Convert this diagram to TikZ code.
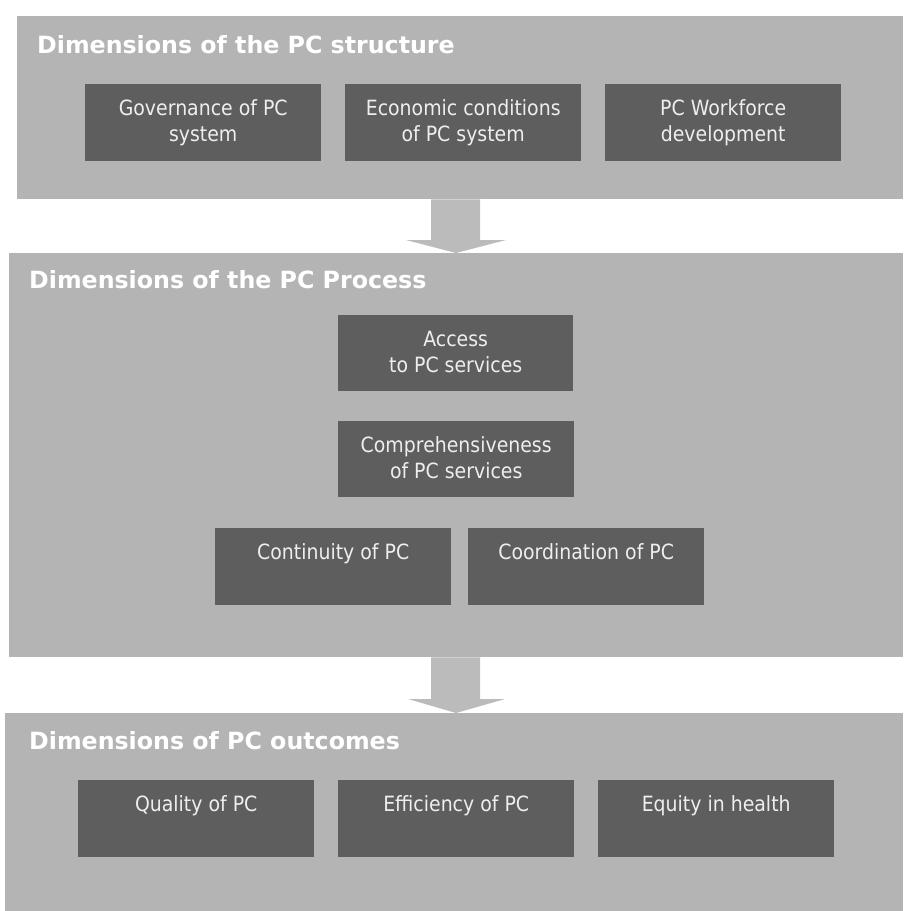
\documentclass[tikz,border=0pt]{standalone}
\usepackage{fontspec}
\setmainfont{DejaVu Sans}
\newfontfamily\bodyfont{DejaVu Sans}[FakeStretch=0.9]
\newfontfamily\titlefont{DejaVu Sans}
\usetikzlibrary{calc}
\definecolor{panelgray}{HTML}{B4B4B4}
\definecolor{boxgray}{HTML}{5E5E5E}
\definecolor{txtgray}{HTML}{EEEEEE}
\definecolor{flowgray}{HTML}{BBBBBB}
\tikzset{
  panel/.style={rectangle, fill=panelgray, inner sep=0pt, anchor=north west},
  dimbox/.style={rectangle, fill=boxgray, inner sep=0pt, anchor=north west,
    minimum width=236pt, minimum height=77pt},
  boxtext/.style={inner sep=0pt, anchor=north, align=center, text=txtgray,
    font={\bodyfont\fontsize{21}{26}\selectfont}},
  paneltitle/.style={inner sep=0pt, anchor=base west, text=white,
    font={\titlefont\bfseries\fontsize{23.7}{28}\selectfont}},
  flow/.style={fill=flowgray}
}
\begin{document}
\begin{tikzpicture}[x=1pt,y=-1pt]
\useasboundingbox (0,0) rectangle (903,911);
\fill[white] (0,0) rectangle (903,911);
% panels
\node[panel, minimum width=886pt, minimum height=183pt] (p1) at (17,16) {};
\node[panel, minimum width=894pt, minimum height=404pt] (p2) at (9,253) {};
\node[panel, minimum width=898pt, minimum height=198pt] (p3) at (5,713) {};
% titles
\node[paneltitle] (t1) at (37,53) {Dimensions of the PC structure};
\node[paneltitle] (t2) at (29,288) {Dimensions of the PC Process};
\node[paneltitle] (t3) at (29,749) {Dimensions of PC outcomes};
% structure boxes
\node[dimbox] (gov) at (85,84) {};
\node[boxtext] (govt) at ($(gov.north)+(0,15.5)$) {Governance of PC\\system};
\node[dimbox] (eco) at (345,84) {};
\node[boxtext] (ecot) at ($(eco.north)+(0,15.5)$) {Economic conditions\\of PC system};
\node[dimbox] (wf) at (605,84) {};
\node[boxtext] (wft) at ($(wf.north)+(0,15.5)$) {PC Workforce\\development};
% process boxes
\node[dimbox, minimum width=235pt, minimum height=76pt] (acc) at (338,315) {};
\node[boxtext] (acct) at ($(acc.north)+(0,15.5)$) {Access\\to PC services};
\node[dimbox, minimum width=236pt, minimum height=76pt] (comp) at (338,421) {};
\node[boxtext] (compt) at ($(comp.north)+(0,15.5)$) {Comprehensiveness\\of PC services};
\node[dimbox] (cont) at (215,528) {};
\node[boxtext] (contt) at ($(cont.north)+(0,15.5)$) {Continuity of PC};
\node[dimbox] (coord) at (468,528) {};
\node[boxtext] (coordt) at ($(coord.north)+(0,15.5)$) {Coordination of PC};
% outcome boxes
\node[dimbox] (qual) at (78,780) {};
\node[boxtext] (qualt) at ($(qual.north)+(0,15.5)$) {Quality of PC};
\node[dimbox] (eff) at (338,780) {};
\node[boxtext] (efft) at ($(eff.north)+(0,15.5)$) {Efficiency of PC};
\node[dimbox] (eq) at (598,780) {};
\node[boxtext] (eqt) at ($(eq.north)+(0,15.5)$) {Equity in health};
% flow arrows
\coordinate (ax) at (456,0);
\fill[flow] ($(p1.south -| ax)+(-25,0)$) -- ($(p1.south -| ax)+(24,0)$)
  -- ($(p2.north -| ax)+(24,-13)$) -- ($(p2.north -| ax)+(50,-13)$)
  -- (p2.north -| ax) -- ($(p2.north -| ax)+(-50,-13)$)
  -- ($(p2.north -| ax)+(-25,-13)$) -- cycle;
\coordinate (bx) at (456,0);
\fill[flow] ($(p2.south -| bx)+(-25,0)$) -- ($(p2.south -| bx)+(24,0)$)
  -- ($(p3.north -| bx)+(24,-14)$) -- ($(p3.north -| bx)+(49,-14)$)
  -- (p3.north -| bx) -- ($(p3.north -| bx)+(-48,-14)$)
  -- ($(p3.north -| bx)+(-25,-14)$) -- cycle;
\end{tikzpicture}
\end{document}
